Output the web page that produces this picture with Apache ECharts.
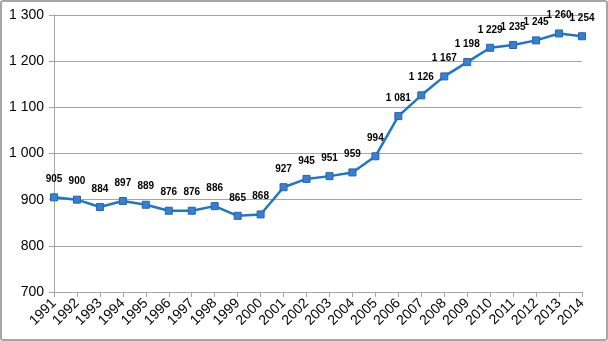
<!DOCTYPE html>
<html>
<head>
<meta charset="utf-8">
<script src="https://cdn.jsdelivr.net/npm/echarts@6/dist/echarts.min.js"></script>
<style>
  html, body { margin: 0; padding: 0; background: #fff; }
  #frame { position: absolute; left: 0; top: 0; width: 604px; height: 337px; border: 2px solid #a6a6a6; border-radius: 3px; background: #fff; }
  #chart { position: absolute; left: 0; top: 0; width: 608px; height: 341px; }
</style>
</head>
<body>
<div id="frame"></div>
<div id="chart"></div>
<script>
const years = ['1991','1992','1993','1994','1995','1996','1997','1998','1999','2000','2001','2002',
               '2003','2004','2005','2006','2007','2008','2009','2010','2011','2012','2013','2014'];
const values = [905, 900, 884, 897, 889, 876, 876, 886, 865, 868, 927, 945,
                951, 959, 994, 1081, 1126, 1167, 1198, 1229, 1235, 1245, 1260, 1254];

// thousands separated by a space: 1229 -> "1 229"
const fmt = v => {
  const s = String(Math.round(v));
  return s.length > 3 ? s.slice(0, s.length - 3) + ' ' + s.slice(-3) : s;
};

const chart = echarts.init(document.getElementById('chart'), null, { renderer: 'canvas' });
chart.setOption({
  animation: false,
  grid: { left: 54, right: 26, top: 15, bottom: 49, containLabel: false },
  xAxis: {
    type: 'category',
    data: years,
    boundaryGap: false,
    axisLine: { lineStyle: { color: '#a6a6a6', width: 1 } },
    axisTick: { show: true, alignWithLabel: true, length: 5, lineStyle: { color: '#a6a6a6' } },
    axisLabel: { rotate: 45, interval: 0, margin: 9, color: '#000', fontFamily: 'Liberation Sans, Arial', fontSize: 14 },
    splitLine: { show: false }
  },
  yAxis: {
    type: 'value',
    min: 700, max: 1300, interval: 100,
    axisLine: { show: true, lineStyle: { color: '#a6a6a6', width: 1 } },
    axisTick: { show: true, length: 5, lineStyle: { color: '#a6a6a6' } },
    axisLabel: { margin: 10, color: '#000', fontFamily: 'Liberation Sans, Arial', fontSize: 14, formatter: fmt },
    splitLine: { lineStyle: { color: '#a6a6a6', width: 1 } }
  },
  series: [{
    type: 'line',
    data: values,
    symbol: 'rect',
    symbolSize: 7,
    lineStyle: { color: '#1f75c6', width: 2.5 },
    itemStyle: { color: '#3a7fcf', borderColor: '#1f66b5', borderWidth: 1 },
    label: {
      show: true, position: 'top', distance: 9,
      color: '#000', fontFamily: 'Liberation Sans, Arial', fontSize: 10, fontWeight: 'bold',
      formatter: p => fmt(p.value)
    }
  }]
});
</script>
</body>
</html>
